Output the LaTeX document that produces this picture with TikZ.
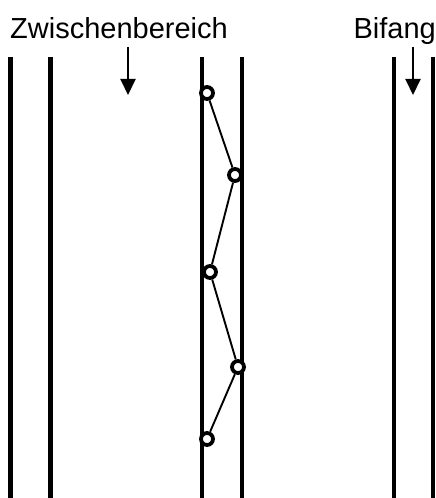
\documentclass[tikz,border=0pt]{standalone}
\usepackage{fontspec}
\setmainfont{Liberation Sans}
\usetikzlibrary{arrows.meta}
\tikzset{
  rail/.style={line width=4.2pt},
  gelenk/.style={circle, draw, fill=white, line width=3.8pt, minimum size=12pt, inner sep=0pt},
  stab/.style={line width=1.9pt},
  pfeil/.style={line width=2pt, -{Triangle[width=15pt,length=16pt]}},
  beschriftung/.style={font=\fontsize{29}{34}\selectfont, inner sep=0pt}
}
\begin{document}
\begin{tikzpicture}[x=1pt, y=1pt]
                            \useasboundingbox (0,0) rectangle (436,498);
                            \foreach \x in {10.5,50.5,202,242,394,433}
                                \draw[rail] (\x,0) -- (\x,441);
                            \node (zb) at (10,459) [beschriftung, anchor=base west] {Zwischenbereich};
                            \node (bf) at (436,459) [beschriftung, anchor=base east] {Bifang};
                            \coordinate (zbA) at (128,451);
                            \coordinate (zbB) at (128,403);
                            \coordinate (bfA) at (413,451);
                            \coordinate (bfB) at (413,403);
                            \draw[pfeil] (zbA) -- (zbB);
                            \draw[pfeil] (bfA) -- (bfB);
                            \node (g1) at (207,405) [gelenk] {};
                            \node (g2) at (235,323) [gelenk] {};
                            \node (g3) at (210,226) [gelenk] {};
                            \node (g4) at (238,131) [gelenk] {};
                            \node (g5) at (207,59) [gelenk] {};
                            \draw[stab] (g1) -- (g2) -- (g3) -- (g4) -- (g5);
                        \end{tikzpicture}
\end{document}
